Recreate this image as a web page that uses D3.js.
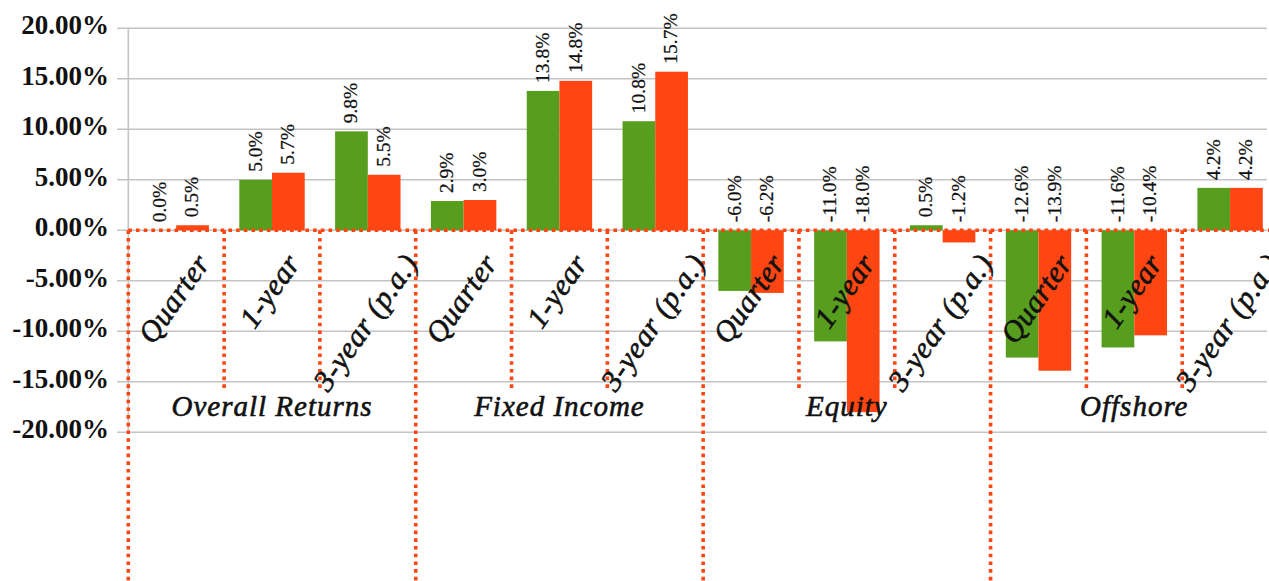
<!DOCTYPE html>
<html>
<head>
<meta charset="utf-8">
<script src="https://cdn.jsdelivr.net/npm/d3@7"></script>
<style>
  html, body { margin: 0; padding: 0; background: #fff; }
  svg { display: block; }
</style>
</head>
<body>
<svg id="chart" width="1269" height="581"></svg>
<script>
// Asset classes and the return periods shown for each
const groups = ["Overall Returns", "Fixed Income", "Equity", "Offshore"];
const periods = ["Quarter", "1-year", "3-year (p.a.)"];

// Returns in percent, one entry per group/period pair
const fundReturns      = [0.0, 5.0, 9.8,   2.9, 13.8, 10.8,   -6.0, -11.0, 0.5,   -12.6, -11.6, 4.2];
const benchmarkReturns = [0.5, 5.7, 5.5,   3.0, 14.8, 15.7,   -6.2, -18.0, -1.2,  -13.9, -10.4, 4.2];

const yTicks = [20, 15, 10, 5, 0, -5, -10, -15, -20];

const W = 1269, H = 581;
const GREEN = "#589e1e", RED = "#ff4511", GRID = "#c4c4c4";

// plain hyphen for negatives
const fmt = spec => v => d3.format(spec)(v).replace("\u2212", "-");

const svg = d3.select("#chart");

const cats = d3.range(groups.length * periods.length);
const x = d3.scaleBand().domain(cats).range([128.3, 1278]).paddingInner(0).paddingOuter(0);
const xs = d3.scaleBand().domain(["fund", "bench"]).range([0, x.bandwidth()]).paddingInner(0).paddingOuter(0.465);
const y = d3.scaleLinear().domain([-20, 20]).range([432.3, 28.3]);
const y0 = y(0);

// Horizontal gridlines with short outside ticks
svg.append("g").selectAll("line").data(yTicks).join("line")
  .attr("x1", 117).attr("x2", 1267)
  .attr("y1", d => y(d)).attr("y2", d => y(d))
  .attr("stroke", GRID).attr("stroke-width", 1.6);

// Vertical value axis
svg.append("line")
  .attr("x1", x.range()[0]).attr("x2", x.range()[0])
  .attr("y1", y(20)).attr("y2", y(-20))
  .attr("stroke", GRID).attr("stroke-width", 1.6);

// Value axis labels
svg.append("g").selectAll("text").data(yTicks).join("text")
  .attr("x", 109).attr("y", d => y(d)).attr("dy", "0.22em")
  .attr("text-anchor", "end")
  .attr("font-family", "'Liberation Serif', serif")
  .attr("font-weight", "bold").attr("font-size", 27)
  .attr("fill", "#111")
  .text(d => fmt(".2f")(d) + "%");

// Bars
const rows = cats.map(i => ({ i, fund: fundReturns[i], bench: benchmarkReturns[i] }));
const series = [
  { key: "fund", color: GREEN },
  { key: "bench", color: RED }
];
const barG = svg.append("g");
series.forEach(s => {
  barG.append("g").selectAll("rect").data(rows).join("rect")
    .attr("x", d => x(d.i) + xs(s.key))
    .attr("width", xs.bandwidth())
    .attr("y", d => Math.min(y(d[s.key]), y0))
    .attr("height", d => Math.abs(y(d[s.key]) - y0))
    .attr("fill", s.color);
});

// Value labels, rotated, sitting just above the bar top or the zero line
const lblG = svg.append("g");
series.forEach(s => {
  lblG.append("g").selectAll("text").data(rows).join("text")
    .attr("transform", d => {
      const cx = x(d.i) + xs(s.key) + xs.bandwidth() / 2;
      const cy = Math.min(y(d[s.key]), y0) - 8;
      return `translate(${cx},${cy}) rotate(-90)`;
    })
    .attr("dy", "0.3em")
    .attr("text-anchor", "start")
    .attr("font-family", "'Liberation Serif', serif")
    .attr("font-size", 19.5)
    .attr("fill", "#111")
    .attr("stroke", "#111").attr("stroke-width", 0.25)
    .text(d => fmt(".1f")(d[s.key]) + "%");
});

// Dotted separators
const dot = { stroke: RED, "stroke-width": 3.6, "stroke-dasharray": "3.6,4.1" };
const applyDot = sel => { Object.entries(dot).forEach(([k, v]) => sel.attr(k, v)); return sel; };

applyDot(svg.append("line")
  .attr("x1", x.range()[0]).attr("x2", W)
  .attr("y1", y0).attr("y2", y0));

const sepG = svg.append("g");
applyDot(sepG.selectAll("line").data(cats).join("line")
  .attr("x1", d => x(d)).attr("x2", d => x(d))
  .attr("y1", y0)
  .attr("y2", d => d % periods.length === 0 ? H : 388));

// Period labels, rotated and centred under each category
const ANG = 55;
const rad = ANG * Math.PI / 180;
const catFont = 30;
const catG = svg.append("g");
catG.selectAll("text").data(cats).join("text")
  .attr("font-family", "'Liberation Serif', serif")
  .attr("font-style", "italic")
  .attr("font-size", catFont)
  .attr("letter-spacing", 0.6)
  .attr("fill", "#111")
  .attr("stroke", "#111").attr("stroke-width", 0.6)
  .attr("text-anchor", "middle")
  .attr("dy", "0.32em")
  .text(d => periods[d % periods.length])
  .each(function(d) {
    const L = this.getComputedTextLength();
    const h = catFont * 1.0;
    const boxH = L * Math.sin(rad) + h * Math.cos(rad);
    const cx = x(d) + x.bandwidth() / 2 - 2;
    const cy = 249 + boxH / 2;
    d3.select(this).attr("transform", `translate(${cx},${cy}) rotate(${-ANG})`);
  });

// Group labels
svg.append("g").selectAll("text").data(groups).join("text")
  .attr("x", (d, g) => {
    const first = x(g * periods.length);
    const last = x(g * periods.length + periods.length - 1) + x.bandwidth();
    return (first + last) / 2;
  })
  .attr("y", 416)
  .attr("text-anchor", "middle")
  .attr("font-family", "'Liberation Serif', serif")
  .attr("font-style", "italic")
  .attr("font-size", 29)
  .attr("letter-spacing", 1)
  .attr("fill", "#111")
  .attr("stroke", "#111").attr("stroke-width", 0.6)
  .text(d => d);
</script>
</body>
</html>
